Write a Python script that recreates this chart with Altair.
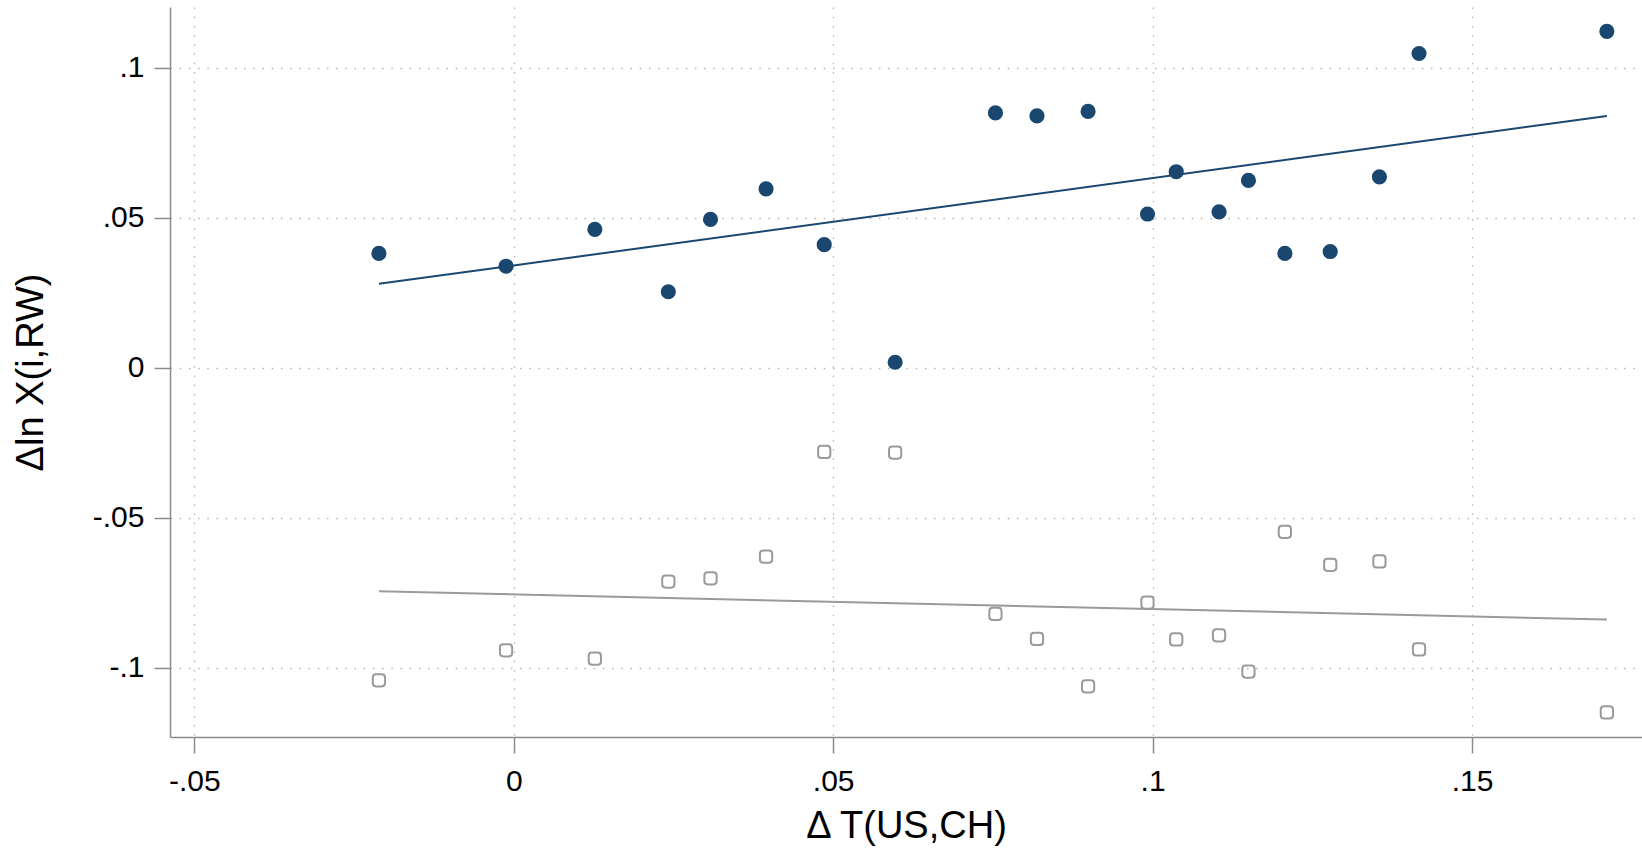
import altair as alt
import pandas as pd

# Change in trade cost T(US,CH) by industry
dT = [-0.0211, -0.0012, 0.0127, 0.0242, 0.0308, 0.0395, 0.0486, 0.0597, 0.0754, 0.0819,
      0.0899, 0.0992, 0.1037, 0.1104, 0.1150, 0.1207, 0.1278, 0.1355, 0.1417, 0.1711]
# Change in log exports to the rest of the world, two series
dlnx_a = [0.0382, 0.0339, 0.0462, 0.0254, 0.0495, 0.0597, 0.0411, 0.0019, 0.0850, 0.0840,
          0.0855, 0.0513, 0.0654, 0.0520, 0.0625, 0.0382, 0.0388, 0.0637, 0.1048, 0.1122]
dlnx_b = [-0.1041, -0.0941, -0.0969, -0.0712, -0.0701, -0.0629, -0.0280, -0.0282, -0.0820, -0.0903,
          -0.1061, -0.0782, -0.0905, -0.0891, -0.1012, -0.0546, -0.0656, -0.0645, -0.0938, -0.1148]

x_ticks = [-0.05, 0, 0.05, 0.1, 0.15]
y_ticks = [-0.1, -0.05, 0, 0.05, 0.1]

NAVY = "#1a476f"
GREY = "#9a9a9a"
FONT = "Liberation Sans"

df = pd.DataFrame({
    "dT": dT * 2,
    "dlnx": dlnx_a + dlnx_b,
    "series": ["a"] * len(dT) + ["b"] * len(dT),
})

label_expr = ("datum.value == 0 ? '0' : (datum.value < 0 ? '-' : '') + "
              "slice(format(abs(datum.value), '.2~f'), 1)")

x_enc = alt.X(
    "dT:Q",
    scale=alt.Scale(domain=[-0.0538, 0.1766], nice=False, zero=False),
    axis=alt.Axis(values=x_ticks, labelExpr=label_expr, title="Δ T(US,CH)",
                  titleY=100, titleBaseline="alphabetic"),
)
y_enc = alt.Y(
    "dlnx:Q",
    scale=alt.Scale(domain=[-0.123, 0.1203], nice=False, zero=False),
    axis=alt.Axis(values=y_ticks, labelExpr=label_expr, title="Δln X(i,RW)",
                  titleX=-128, titleBaseline="alphabetic"),
)

base = alt.Chart(df)

# hollow square with rounded corners
rounded_square = ("M-0.45,-1H0.45Q1,-1,1,-0.45V0.45Q1,1,0.45,1H-0.45"
                  "Q-1,1,-1,0.45V-0.45Q-1,-1,-0.45,-1Z")

fit_a = base.transform_filter(alt.datum.series == "a").transform_regression(
    "dT", "dlnx").mark_line(color=NAVY, strokeWidth=2).encode(x=x_enc, y=y_enc)
fit_b = base.transform_filter(alt.datum.series == "b").transform_regression(
    "dT", "dlnx").mark_line(color=GREY, strokeWidth=2).encode(x=x_enc, y=y_enc)

pts_a = base.transform_filter(alt.datum.series == "a").mark_point(
    filled=True, shape="circle", size=230, color=NAVY, opacity=1
).encode(x=x_enc, y=y_enc)
pts_b = base.transform_filter(alt.datum.series == "b").mark_point(
    filled=False, shape=rounded_square, size=150, stroke=GREY, strokeWidth=2, opacity=1
).encode(x=x_enc, y=y_enc)

chart = alt.layer(fit_b, fit_a, pts_b, pts_a).properties(
    width=1472,
    height=730,
    autosize=alt.AutoSizeParams(type="none"),
    padding={"left": 170, "top": 7, "right": 0, "bottom": 113},
    background="white",
).configure_view(
    stroke=None
).configure_axis(
    labelFont=FONT,
    titleFont=FONT,
    labelFontSize=30,
    titleFontSize=38,
    titleFontWeight="normal",
    labelColor="black",
    titleColor="black",
    domainColor="#8c8c8c",
    domainWidth=1.5,
    tickColor="#8c8c8c",
    tickWidth=1.5,
    tickSize=16,
    grid=True,
    gridColor="#b4b4b4",
    gridDash=[1.5, 7.7],
    gridWidth=1.3,
).configure_axisX(
    labelPadding=13,
    labelFlush=False,
).configure_axisY(
    labelPadding=10,
    labelFlush=False,
)

chart.save("out.html", embed_options={"renderer": "svg", "actions": False})
